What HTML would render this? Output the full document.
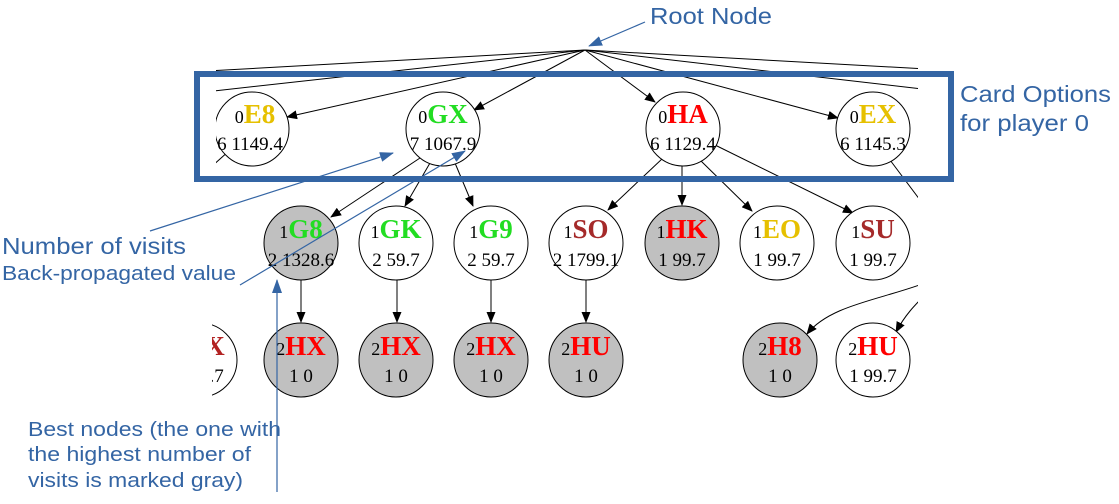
<!DOCTYPE html>
<html><head><meta charset="utf-8"><style>body{margin:0;background:#fff}svg{display:block}</style></head><body>
<svg width="1119" height="504" viewBox="0 0 1119 504" xmlns="http://www.w3.org/2000/svg">
<defs>
<marker id="a" markerWidth="11" markerHeight="9" refX="10" refY="4.5" orient="auto" markerUnits="userSpaceOnUse"><path d="M0,0 L11,4.5 L0,9z" fill="#000"/></marker>
<marker id="b" markerWidth="14" markerHeight="10" refX="13" refY="5" orient="auto" markerUnits="userSpaceOnUse"><path d="M0,0 L14,5 L0,10z" fill="#3465a4"/></marker>
<clipPath id="c"><rect x="216" y="40" width="702" height="360"/></clipPath>
<clipPath id="c2"><rect x="212" y="300" width="100" height="100"/></clipPath>
</defs>
<g clip-path="url(#c)" stroke="#000" stroke-width="1" fill="none">
<line x1="585" y1="50" x2="190" y2="72"/>
<line x1="585" y1="50" x2="150" y2="98"/>
<line x1="585" y1="50" x2="980" y2="72"/>
<line x1="585" y1="50" x2="1000" y2="98"/>
<line x1="585" y1="50" x2="287" y2="117" marker-end="url(#a)"/>
<line x1="585" y1="50" x2="474" y2="110" marker-end="url(#a)"/>
<line x1="585" y1="50" x2="655" y2="102" marker-end="url(#a)"/>
<line x1="585" y1="50" x2="838" y2="118" marker-end="url(#a)"/>
<line x1="230" y1="150" x2="210" y2="168"/>
<line x1="420" y1="158" x2="331" y2="217" marker-end="url(#a)"/>
<line x1="430" y1="163" x2="405" y2="206" marker-end="url(#a)"/>
<line x1="455" y1="163" x2="473" y2="206" marker-end="url(#a)"/>
<line x1="663" y1="158" x2="608" y2="210" marker-end="url(#a)"/>
<line x1="682" y1="164" x2="682" y2="205" marker-end="url(#a)"/>
<line x1="700" y1="160" x2="752" y2="211" marker-end="url(#a)"/>
<line x1="715" y1="145" x2="853" y2="213" marker-end="url(#a)"/>
<line x1="890" y1="160" x2="920" y2="200"/>
<line x1="301" y1="280" x2="301" y2="322" marker-end="url(#a)"/>
<line x1="397" y1="280" x2="397" y2="322" marker-end="url(#a)"/>
<line x1="491" y1="280" x2="491" y2="322" marker-end="url(#a)"/>
<line x1="586" y1="280" x2="586" y2="322" marker-end="url(#a)"/>
<path d="M925,283 C880,300 830,305 807,334" marker-end="url(#a)"/>
<path d="M925,295 C915,305 905,315 896,332" marker-end="url(#a)"/>
</g>
<g font-family="Liberation Serif, serif" stroke="#000" stroke-width="1">
<g clip-path="url(#c)">
<ellipse cx="252" cy="129" rx="37" ry="37" fill="#fff"/>
</g>
<g clip-path="url(#c2)">
<ellipse cx="200" cy="360" rx="37" ry="37" fill="#fff"/>
</g>
<ellipse cx="443" cy="129" rx="37" ry="37" fill="#fff"/>
<ellipse cx="683" cy="129" rx="37" ry="37" fill="#fff"/>
<ellipse cx="873" cy="129" rx="37" ry="37" fill="#fff"/>
<ellipse cx="301" cy="243" rx="37" ry="37" fill="#c0c0c0"/>
<ellipse cx="396" cy="243" rx="37" ry="37" fill="#fff"/>
<ellipse cx="491" cy="243" rx="37" ry="37" fill="#fff"/>
<ellipse cx="586" cy="243" rx="37" ry="37" fill="#fff"/>
<ellipse cx="682" cy="243" rx="37" ry="37" fill="#c0c0c0"/>
<ellipse cx="777" cy="243" rx="37" ry="37" fill="#fff"/>
<ellipse cx="873" cy="243" rx="37" ry="37" fill="#fff"/>
<ellipse cx="301" cy="360" rx="37" ry="37" fill="#c0c0c0"/>
<ellipse cx="396" cy="360" rx="37" ry="37" fill="#c0c0c0"/>
<ellipse cx="491" cy="360" rx="37" ry="37" fill="#c0c0c0"/>
<ellipse cx="586" cy="360" rx="37" ry="37" fill="#c0c0c0"/>
<ellipse cx="780" cy="360" rx="37" ry="37" fill="#c0c0c0"/>
<ellipse cx="873" cy="360" rx="37" ry="37" fill="#fff"/>
</g>
<g font-family="Liberation Serif, serif" text-anchor="middle" fill="#000">
<g clip-path="url(#c)">
<text x="255" y="123" font-size="18">0<tspan font-size="27" font-weight="bold" fill="#e6c000">E8</tspan></text>
<text x="250" y="150" font-size="19">6 1149.4</text>
</g>
<g clip-path="url(#c2)">
<text x="200" y="355" font-size="18">2<tspan font-size="27" font-weight="bold" fill="#b22222">HX</tspan></text>
<text x="200" y="382" font-size="19">1 99.7</text>
</g>
<text x="443" y="123" font-size="18">0<tspan font-size="27" font-weight="bold" fill="#22dd22">GX</tspan></text>
<text x="443" y="150" font-size="19">7 1067.9</text>
<text x="683" y="123" font-size="18">0<tspan font-size="27" font-weight="bold" fill="#ff0000">HA</tspan></text>
<text x="683" y="150" font-size="19">6 1129.4</text>
<text x="873" y="123" font-size="18">0<tspan font-size="27" font-weight="bold" fill="#e6c000">EX</tspan></text>
<text x="873" y="150" font-size="19">6 1145.3</text>
<text x="301" y="238" font-size="18">1<tspan font-size="27" font-weight="bold" fill="#22dd22">G8</tspan></text>
<text x="301" y="266" font-size="19">2 1328.6</text>
<text x="396" y="238" font-size="18">1<tspan font-size="27" font-weight="bold" fill="#22dd22">GK</tspan></text>
<text x="396" y="266" font-size="19">2 59.7</text>
<text x="491" y="238" font-size="18">1<tspan font-size="27" font-weight="bold" fill="#22dd22">G9</tspan></text>
<text x="491" y="266" font-size="19">2 59.7</text>
<text x="586" y="238" font-size="18">1<tspan font-size="27" font-weight="bold" fill="#a52a2a">SO</tspan></text>
<text x="586" y="266" font-size="19">2 1799.1</text>
<text x="682" y="238" font-size="18">1<tspan font-size="27" font-weight="bold" fill="#ff0000">HK</tspan></text>
<text x="682" y="266" font-size="19">1 99.7</text>
<text x="777" y="238" font-size="18">1<tspan font-size="27" font-weight="bold" fill="#e6c000">EO</tspan></text>
<text x="777" y="266" font-size="19">1 99.7</text>
<text x="873" y="238" font-size="18">1<tspan font-size="27" font-weight="bold" fill="#a52a2a">SU</tspan></text>
<text x="873" y="266" font-size="19">1 99.7</text>
<text x="301" y="355" font-size="18">2<tspan font-size="27" font-weight="bold" fill="#ff0000">HX</tspan></text>
<text x="301" y="382" font-size="19">1 0</text>
<text x="396" y="355" font-size="18">2<tspan font-size="27" font-weight="bold" fill="#ff0000">HX</tspan></text>
<text x="396" y="382" font-size="19">1 0</text>
<text x="491" y="355" font-size="18">2<tspan font-size="27" font-weight="bold" fill="#ff0000">HX</tspan></text>
<text x="491" y="382" font-size="19">1 0</text>
<text x="586" y="355" font-size="18">2<tspan font-size="27" font-weight="bold" fill="#ff0000">HU</tspan></text>
<text x="586" y="382" font-size="19">1 0</text>
<text x="780" y="355" font-size="18">2<tspan font-size="27" font-weight="bold" fill="#ff0000">H8</tspan></text>
<text x="780" y="382" font-size="19">1 0</text>
<text x="873" y="355" font-size="18">2<tspan font-size="27" font-weight="bold" fill="#ff0000">HU</tspan></text>
<text x="873" y="382" font-size="19">1 99.7</text>
</g>
<rect x="197" y="74" width="754" height="105" fill="none" stroke="#3465a4" stroke-width="6"/>
<g stroke="#3465a4" stroke-width="1.2" fill="none">
<line x1="645" y1="22" x2="589" y2="46" marker-end="url(#b)"/>
<line x1="150" y1="231" x2="393" y2="153" marker-end="url(#b)"/>
<line x1="240" y1="285" x2="465" y2="151" marker-end="url(#b)"/>
<line x1="277" y1="492" x2="277" y2="280" marker-end="url(#b)"/>
</g>
<g font-family="Liberation Sans, sans-serif" fill="#3465a4" lengthAdjust="spacingAndGlyphs">
<text x="650" y="24" font-size="23" textLength="122" lengthAdjust="spacingAndGlyphs">Root Node</text>
<text x="960" y="102" font-size="23" textLength="151" lengthAdjust="spacingAndGlyphs">Card Options</text>
<text x="960" y="131" font-size="23" textLength="129" lengthAdjust="spacingAndGlyphs">for player 0</text>
<text x="2" y="254" font-size="23" textLength="184" lengthAdjust="spacingAndGlyphs">Number of visits</text>
<text x="2" y="280" font-size="20" textLength="234" lengthAdjust="spacingAndGlyphs">Back-propagated value</text>
<text x="28" y="436" font-size="20" textLength="253" lengthAdjust="spacingAndGlyphs">Best nodes (the one with</text>
<text x="28" y="461" font-size="20" textLength="223" lengthAdjust="spacingAndGlyphs">the highest number of</text>
<text x="28" y="487" font-size="20" textLength="215" lengthAdjust="spacingAndGlyphs">visits is marked gray)</text>
</g>
</svg>
</body></html>
